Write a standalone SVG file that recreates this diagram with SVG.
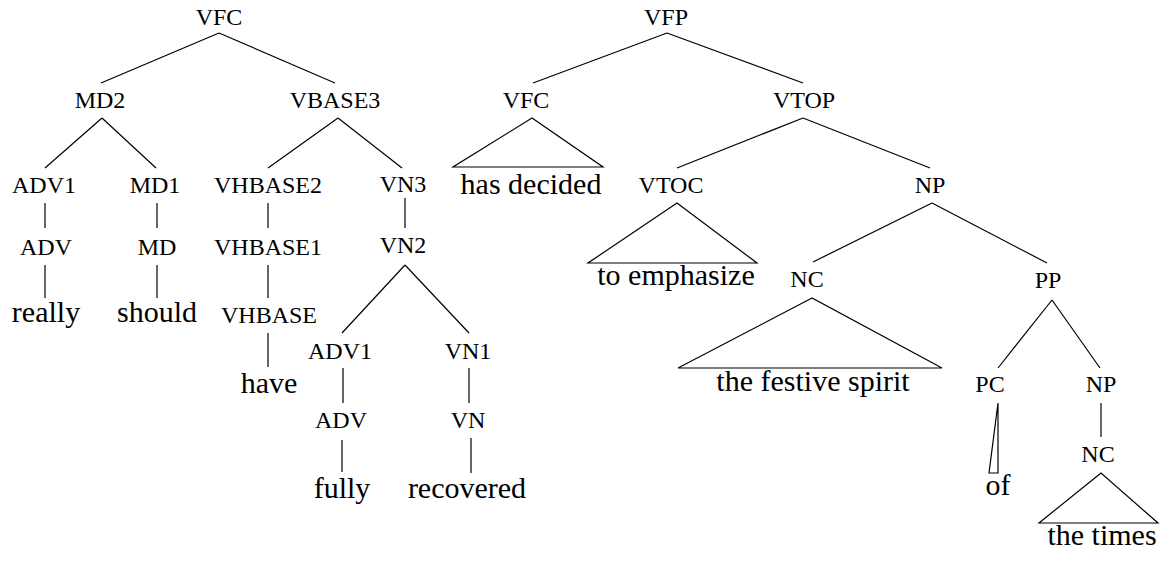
<svg xmlns="http://www.w3.org/2000/svg" width="1167" height="563" viewBox="0 0 1167 563">
<style>
.l{font-size:24px;fill:#000;text-anchor:middle}
.w{font-size:30px;fill:#000;text-anchor:middle}
.e line,.e polygon{stroke:#000;stroke-width:1.2;fill:none}
</style>
<rect width="1167" height="563" fill="#fff"/>
<g id="connectors" class="e">
<line x1="219" y1="33" x2="101" y2="83"/>
<line x1="219" y1="33" x2="335" y2="83"/>
<line x1="102" y1="118" x2="45" y2="168"/>
<line x1="102" y1="118" x2="156" y2="168"/>
<line x1="338" y1="118" x2="268" y2="168"/>
<line x1="338" y1="118" x2="402" y2="168"/>
<line x1="45" y1="203" x2="45" y2="228"/>
<line x1="157" y1="203" x2="157" y2="228"/>
<line x1="268" y1="203" x2="268" y2="228"/>
<line x1="405" y1="198" x2="405" y2="228"/>
<line x1="45" y1="265" x2="45" y2="298"/>
<line x1="157" y1="265" x2="157" y2="298"/>
<line x1="268" y1="265" x2="268" y2="298"/>
<line x1="268" y1="333" x2="268" y2="367"/>
<line x1="405" y1="265" x2="342" y2="333"/>
<line x1="405" y1="265" x2="469" y2="333"/>
<line x1="343" y1="368" x2="343" y2="403"/>
<line x1="469" y1="368" x2="469" y2="403"/>
<line x1="342" y1="440" x2="342" y2="472"/>
<line x1="471" y1="438" x2="471" y2="473"/>
<line x1="667" y1="33" x2="533" y2="83"/>
<line x1="667" y1="33" x2="803" y2="83"/>
<polygon points="532,118 453,167 603,167"/>
<line x1="803" y1="118" x2="677" y2="168"/>
<line x1="803" y1="118" x2="930" y2="168"/>
<polygon points="677,203 588,263 757,263"/>
<line x1="932" y1="203" x2="813" y2="262"/>
<line x1="932" y1="203" x2="1047" y2="263"/>
<polygon points="812,298 678,368 942,368"/>
<line x1="1052" y1="300" x2="998" y2="368"/>
<line x1="1052" y1="300" x2="1100" y2="368"/>
<polygon points="998,403 989,473 998,473"/>
<line x1="1101" y1="403" x2="1101" y2="437"/>
<polygon points="1101,473 1039,523 1158,523"/>
</g>
<g font-family="Liberation Serif, serif">
<g id="n-vfc"><text class="l" x="219" y="25">VFC</text></g>
<g id="n-md2"><text class="l" x="100" y="108">MD2</text></g>
<g id="n-vbase3"><text class="l" x="335" y="108">VBASE3</text></g>
<g id="n-adv1a"><text class="l" x="44" y="193">ADV1</text></g>
<g id="n-md1"><text class="l" x="155" y="193">MD1</text></g>
<g id="n-vhbase2"><text class="l" x="268" y="193">VHBASE2</text></g>
<g id="n-vn3"><text class="l" x="403" y="192">VN3</text></g>
<g id="n-adva"><text class="l" x="46" y="255">ADV</text></g>
<g id="n-md"><text class="l" x="157" y="255">MD</text></g>
<g id="n-vhbase1"><text class="l" x="268" y="255">VHBASE1</text></g>
<g id="n-vn2"><text class="l" x="403" y="253">VN2</text></g>
<g id="n-really"><text class="w" x="46" y="322">really</text></g>
<g id="n-should"><text class="w" x="157" y="322">should</text></g>
<g id="n-vhbase"><text class="l" x="269" y="323">VHBASE</text></g>
<g id="n-have"><text class="w" x="269" y="393">have</text></g>
<g id="n-adv1b"><text class="l" x="340" y="359">ADV1</text></g>
<g id="n-vn1"><text class="l" x="468" y="359">VN1</text></g>
<g id="n-advb"><text class="l" x="341" y="428">ADV</text></g>
<g id="n-vn"><text class="l" x="468" y="428">VN</text></g>
<g id="n-fully"><text class="w" x="342" y="498">fully</text></g>
<g id="n-recovered"><text class="w" x="467" y="498">recovered</text></g>
<g id="n-vfp"><text class="l" x="666" y="25">VFP</text></g>
<g id="n-vfc2"><text class="l" x="526" y="108">VFC</text></g>
<g id="n-vtop"><text class="l" x="804" y="108">VTOP</text></g>
<g id="n-hasdecided"><text class="w" x="531" y="194">has decided</text></g>
<g id="n-vtoc"><text class="l" x="671" y="193">VTOC</text></g>
<g id="n-np1"><text class="l" x="930" y="193">NP</text></g>
<g id="n-toemph"><text class="w" x="676" y="285">to emphasize</text></g>
<g id="n-nc1"><text class="l" x="807" y="287">NC</text></g>
<g id="n-pp"><text class="l" x="1048" y="288">PP</text></g>
<g id="n-festive"><text class="w" x="813" y="391">the festive spirit</text></g>
<g id="n-pc"><text class="l" x="990" y="392">PC</text></g>
<g id="n-np2"><text class="l" x="1101" y="392">NP</text></g>
<g id="n-of"><text class="w" x="998" y="495">of</text></g>
<g id="n-nc2"><text class="l" x="1098" y="462">NC</text></g>
<g id="n-times"><text class="w" x="1102" y="545">the times</text></g>
</g>
</svg>
